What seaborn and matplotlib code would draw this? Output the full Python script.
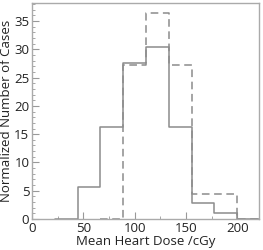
import matplotlib
matplotlib.use("Agg")
import matplotlib.pyplot as plt
import numpy as np
import pandas as pd
import seaborn as sns
from matplotlib.ticker import MultipleLocator

# bin edges (cGy) and normalized percentages
bin_edges = [44.4, 66.6, 88.8, 111.0, 133.2, 155.4, 177.6, 199.8]
bin_centers = [55.5, 77.7, 99.9, 122.1, 144.3, 166.5, 188.7]
solid_pct = [5.7, 16.2, 27.6, 30.5, 16.2, 2.9, 1.0]
dashed_pct = [0.0, 0.0, 27.3, 36.4, 27.3, 4.5, 4.5]

df = pd.DataFrame({
    "dose": bin_centers * 2,
    "pct": solid_pct + dashed_pct,
    "group": ["solid"] * 7 + ["dashed"] * 7,
})

sns.set_style("ticks")
plt.rcParams["font.family"] = ["Open Sans", "DejaVu Sans"]

fig = plt.figure(figsize=(2.63, 2.5), dpi=100)
ax = fig.add_axes([0.122, 0.124, 0.863, 0.864])

line_col = "#8c8c8c"
# one empty bin on each side so the outline drops to the baseline
w = bin_edges[1] - bin_edges[0]
edges_ext = [bin_edges[0] - w] + bin_edges + [bin_edges[-1] + w]

sns.histplot(data=df[df.group == "solid"], x="dose", weights="pct",
             bins=edges_ext, element="step", fill=False, color=line_col,
             linewidth=1.1, ax=ax)
sns.histplot(data=df[df.group == "dashed"], x="dose", weights="pct",
             bins=edges_ext[2:], element="step", fill=False, color=line_col,
             linewidth=1.1, linestyle=(0, (5, 3)), ax=ax)

ax.set_xlim(0, 221)
ax.set_ylim(0, 38.2)
ax.xaxis.set_major_locator(MultipleLocator(50))
ax.xaxis.set_minor_locator(MultipleLocator(25))
ax.yaxis.set_major_locator(MultipleLocator(5))
ax.yaxis.set_minor_locator(MultipleLocator(1))
ax.tick_params(which="both", direction="in", color="#999999", labelsize=9.5,
               labelcolor="#222222", pad=2)
ax.tick_params(which="major", length=5, width=0.8)
ax.tick_params(which="minor", length=2.5, width=0.6)
for s in ax.spines.values():
    s.set_color("#aaaaaa")
    s.set_linewidth(1.0)
    s.set_zorder(3)

ax.set_xlabel("Mean Heart Dose /cGy", fontsize=9.5, labelpad=0, color="#222222")
ax.set_ylabel("Normalized Number of Cases", fontsize=9.5, labelpad=1, color="#222222")

fig.savefig("out.png", dpi=100)
